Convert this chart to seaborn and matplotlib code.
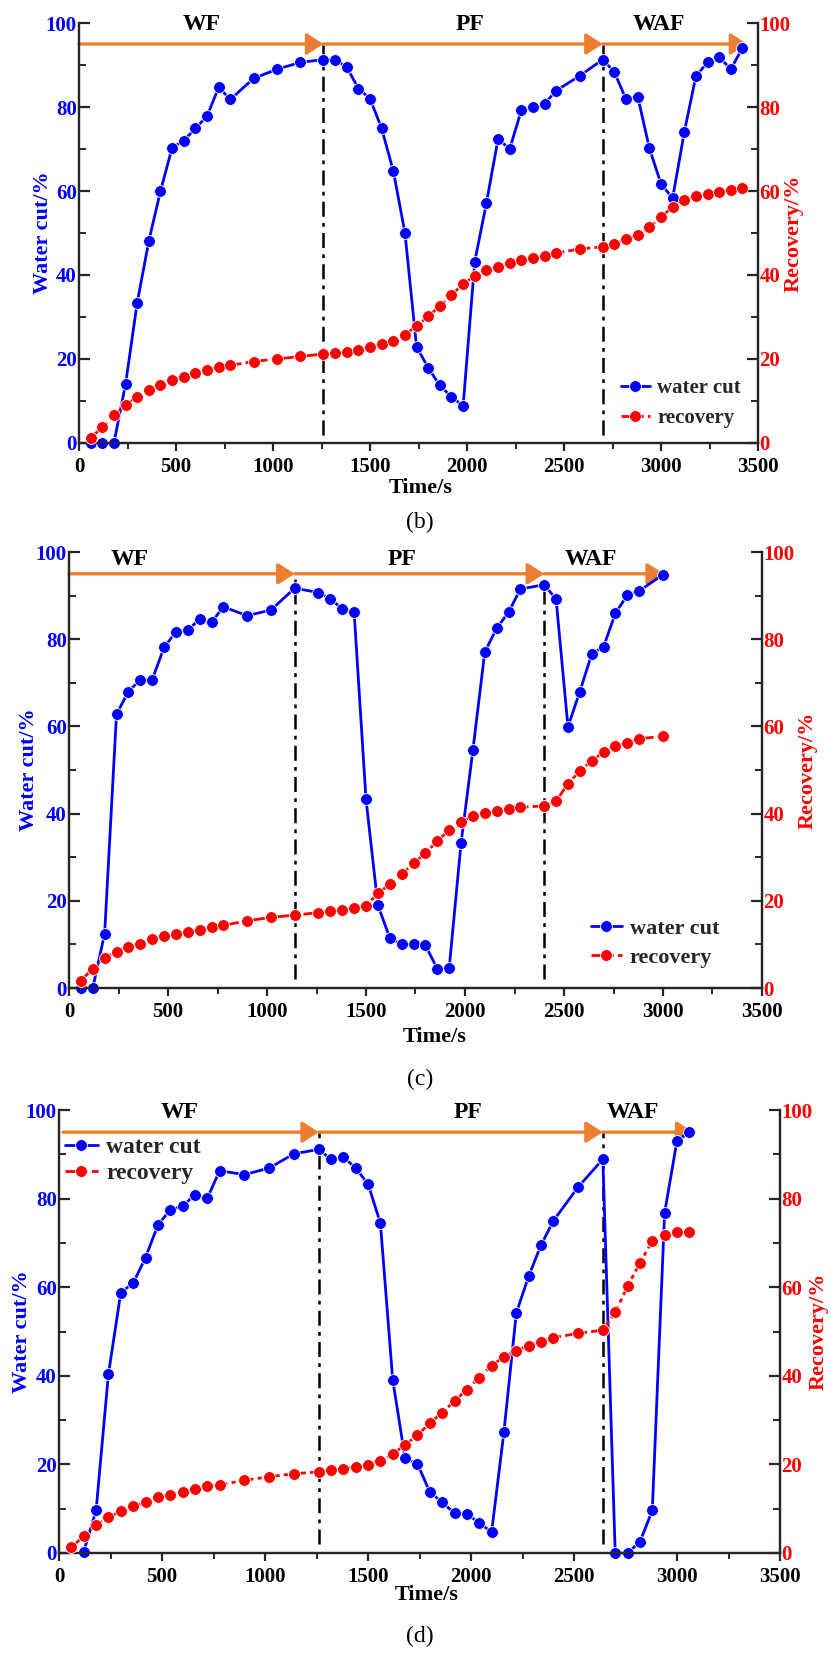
import numpy as np
import pandas as pd
import matplotlib
matplotlib.use('Agg')
import matplotlib.pyplot as plt
import seaborn as sns
from matplotlib.ticker import MultipleLocator

# ---------------- data ----------------
b_time = [60,120,180,240,300,360,420,480,540,600,660,720,780,900,1020,1140,
          1260,1320,1380,1440,1500,1560,1620,1680,1740,1800,1860,1920,1980,2040,
          2100,2160,2220,2280,2340,2400,2460,2580,2700,2760,2820,2880,2940,3000,
          3060,3120,3180,3240,3300,3360,3420]
b_water_cut = [0,0,0,14.0,33.4,48.1,60.0,70.3,72.0,74.9,77.8,84.7,81.8,86.8,89.0,90.6,
               91.3,91.3,89.5,84.4,82.0,74.9,64.8,50.1,22.9,17.9,13.7,11.0,8.8,43.2,
               57.1,72.4,70.0,79.2,80.0,80.8,83.9,87.4,91.3,88.3,81.8,82.5,70.2,61.7,
               58.3,74.0,87.4,90.6,91.9,89.0,94.1]
b_recovery = [1.3,3.7,6.6,9.0,11.0,12.7,13.9,15.0,15.8,16.7,17.5,18.0,18.5,19.4,20.0,20.6,
              21.2,21.5,21.7,22.2,22.8,23.6,24.4,25.8,27.8,30.2,32.6,35.2,37.9,39.7,
              41.1,42.0,42.9,43.6,44.1,44.6,45.2,46.2,46.7,47.5,48.6,49.5,51.4,53.7,
              56.3,57.9,58.7,59.3,59.8,60.2,60.6]
b_bounds = [0, 1260, 2700, 3445]
b_phase_x = [635, 2018, 2989]

c_time = [60,120,180,240,300,360,420,480,540,600,660,720,780,900,1020,1140,
          1260,1320,1380,1440,1500,1560,1620,1680,1740,1800,1860,1920,1980,2040,
          2100,2160,2220,2280,2400,2460,2520,2580,2640,2700,2760,2820,2880,3000]
c_water_cut = [0,0,12.5,62.8,68.0,70.7,70.7,78.1,81.7,82.1,84.6,83.9,87.4,85.4,86.7,91.7,
               90.7,89.3,86.9,86.2,43.3,19.0,11.5,10.0,10.0,9.8,4.4,4.5,33.2,54.6,
               77.1,82.5,86.2,91.5,92.5,89.2,59.9,68.0,76.6,78.3,86.0,90.1,91.1,94.8]
c_recovery = [1.7,4.4,6.9,8.3,9.3,10.2,11.2,11.9,12.4,12.9,13.4,13.9,14.4,15.4,16.2,16.7,
              17.3,17.6,18.0,18.4,18.9,21.7,23.8,26.1,28.6,30.9,33.7,36.2,38.1,39.4,
              40.1,40.7,41.1,41.4,41.8,42.8,46.9,49.7,52.1,54.1,55.4,56.3,57.2,57.7]
c_bounds = [0, 1140, 2400, 3005]
c_phase_x = [308, 1680, 2636]

d_wc_time = [120,180,240,300,360,420,480,540,600,660,720,780,900,1020,1140,
             1260,1320,1380,1440,1500,1560,1620,1680,1740,1800,1860,1920,1980,2040,
             2100,2160,2220,2280,2340,2400,2520,2640,2700,2760,2820,2880,2940,3000,3060]
d_water_cut = [0.3,9.6,40.4,58.8,60.9,66.7,74.0,77.5,78.3,80.9,80.1,86.3,85.4,86.9,90.1,
               91.1,88.9,89.4,86.9,83.3,74.5,39.1,21.4,20.1,13.8,11.4,9.0,8.8,6.8,
               4.7,27.4,54.2,62.5,69.5,75.0,82.6,88.9,0,0,2.5,9.6,76.8,93.1,95.0]
d_rec_time = [60] + d_wc_time
d_recovery = [1.3,3.8,6.3,8.1,9.4,10.5,11.5,12.6,13.2,13.8,14.4,15.1,15.4,16.4,17.2,17.9,
              18.3,18.7,19.0,19.4,19.9,20.8,22.3,24.4,26.6,29.3,31.7,34.3,36.9,39.6,
              42.3,44.3,45.7,46.8,47.7,48.6,49.6,50.3,54.3,60.2,65.5,70.4,71.8,72.4,72.5]
d_bounds = [20, 1262, 2640, 3080]
d_phase_x = [587, 1985, 2787]

phase_names = ['WF', 'PF', 'WAF']
panel_tags = ['(b)', '(c)', '(d)']

# ---------------- style ----------------
sns.set_style('ticks')
plt.rcParams['font.family'] = ['Liberation Serif', 'DejaVu Serif']
plt.rcParams['font.weight'] = 'bold'
plt.rcParams['axes.linewidth'] = 1.6

BLUE = '#0000FF'
RED = '#FF0000'
ORANGE = '#ED7D31'

fig = plt.figure(figsize=(8.31, 16.54), dpi=100)
W, H = 831.0, 1654.0

def rect(l, r, top, bot):
    return [l / W, 1 - bot / H, (r - l) / W, (bot - top) / H]

panels = [
    dict(rect=rect(79, 758, 23, 443), t_wc=b_time, wc=b_water_cut, t_rec=b_time, rec=b_recovery,
         bounds=b_bounds, px=b_phase_x, py=99.6, leg=(0.798, 0.155), legfs=15, legsp=0.5,
         ylab_x=-0.053, rlab_x=1.053, xlab=(0.503, -0.107), tag=(420, 522)),
    dict(rect=rect(69, 762, 552, 988), t_wc=c_time, wc=c_water_cut, t_rec=c_time, rec=c_recovery,
         bounds=c_bounds, px=c_phase_x, py=98.3, leg=(0.753, 0.160), legfs=16, legsp=0.4,
         ylab_x=-0.058, rlab_x=1.066, xlab=(0.527, -0.112), tag=(420, 1079)),
    dict(rect=rect(59, 780, 1110, 1553), t_wc=d_wc_time, wc=d_water_cut, t_rec=d_rec_time, rec=d_recovery,
         bounds=d_bounds, px=d_phase_x, py=99.5, leg=(0.008, 0.940), legfs=17, legsp=0.2,
         ylab_x=-0.051, rlab_x=1.053, xlab=(0.51, -0.095), tag=(420, 1636)),
]

for p, tag in zip(panels, panel_tags):
    ax = fig.add_axes(p['rect'])
    ax2 = ax.twinx()

    df_wc = pd.DataFrame({'time': p['t_wc'], 'value': p['wc']})
    df_rec = pd.DataFrame({'time': p['t_rec'], 'value': p['rec']})

    sns.lineplot(data=df_wc, x='time', y='value', ax=ax, color=BLUE, marker='o',
                 markersize=8.5, markeredgecolor='white', markeredgewidth=0.6,
                 linewidth=2.0, estimator=None, sort=False, clip_on=False, zorder=3)
    h_wc = ax.lines[-1]
    sns.lineplot(data=df_rec, x='time', y='value', ax=ax2, color=RED, marker='o',
                 markersize=8.5, markeredgecolor='white', markeredgewidth=0.6,
                 linewidth=2.0, linestyle=(0, (5, 1.5, 1.5, 1.5)), estimator=None,
                 sort=False, clip_on=False, zorder=3)
    h_rec = ax2.lines[-1]

    for a in (ax, ax2):
        a.set_xlim(0, 3500)
        a.set_ylim(0, 100)
        a.set_xlabel('')
        a.set_ylabel('')
        a.spines['top'].set_visible(False)
        for s in a.spines.values():
            s.set_linewidth(1.6)
        a.yaxis.set_major_locator(MultipleLocator(20))
        a.yaxis.set_minor_locator(MultipleLocator(10))
    ax.xaxis.set_major_locator(MultipleLocator(500))
    ax.xaxis.set_minor_locator(MultipleLocator(250))

    ax.tick_params(axis='y', which='major', direction='in', length=8, width=1.6,
                   labelsize=15, labelcolor=BLUE, pad=1.5)
    ax.tick_params(axis='y', which='minor', direction='in', length=5, width=1.4)
    ax.tick_params(axis='x', which='major', direction='out', length=6, width=1.6,
                   labelsize=15, labelcolor='black', pad=4)
    ax.tick_params(axis='x', which='minor', direction='out', length=4, width=1.4)
    ax2.tick_params(axis='y', which='major', direction='in', length=8, width=1.6,
                    labelsize=15, labelcolor=RED, pad=1)
    ax2.tick_params(axis='y', which='minor', direction='in', length=5, width=1.4)
    for lab in ax.get_xticklabels() + ax.get_yticklabels() + ax2.get_yticklabels():
        lab.set_fontweight('bold')

    # phase separators
    for xb in p['bounds'][1:3]:
        ax.plot([xb, xb], [2, 95], color='black', lw=1.8,
                linestyle=(0, (6, 2.5, 1.5, 2.5)), zorder=1)
    # phase arrows
    bnd = p['bounds']
    for i in range(3):
        ax.annotate('', xy=(bnd[i + 1], 95), xytext=(bnd[i], 95),
                    arrowprops=dict(arrowstyle='-|>,head_length=0.5,head_width=0.32',
                                    mutation_scale=20, color=ORANGE, lw=2.4,
                                    shrinkA=0, shrinkB=0),
                    annotation_clip=False, zorder=1.5)
        ax.text(p['px'][i], p['py'], phase_names[i], ha='center', va='center',
                fontsize=17, fontweight='bold', color='black', clip_on=False)

    # axis labels
    ax.text(p['ylab_x'], 0.5, 'Water cut/%', transform=ax.transAxes, rotation=90,
            ha='center', va='center', fontsize=16, fontweight='bold', color=BLUE)
    ax.text(p['rlab_x'], 0.5, 'Recovery/%', transform=ax.transAxes, rotation=90,
            ha='center', va='center', fontsize=16, fontweight='bold', color=RED)
    ax.text(p['xlab'][0], p['xlab'][1], 'Time/s', transform=ax.transAxes,
            ha='center', va='center', fontsize=16, fontweight='bold', color='black')

    leg = ax2.legend([h_wc, h_rec], ['water cut', 'recovery'], loc='upper left',
                     bbox_to_anchor=p['leg'], frameon=False, borderpad=0,
                     borderaxespad=0, handlelength=1.4, handletextpad=0.35,
                     labelspacing=p['legsp'], prop=dict(size=p['legfs'], weight='bold'))

    fig.text(p['tag'][0] / W, 1 - p['tag'][1] / H, tag, ha='center', va='center',
             fontsize=17, fontweight='normal', color='black')

fig.savefig('out.png', dpi=100)
